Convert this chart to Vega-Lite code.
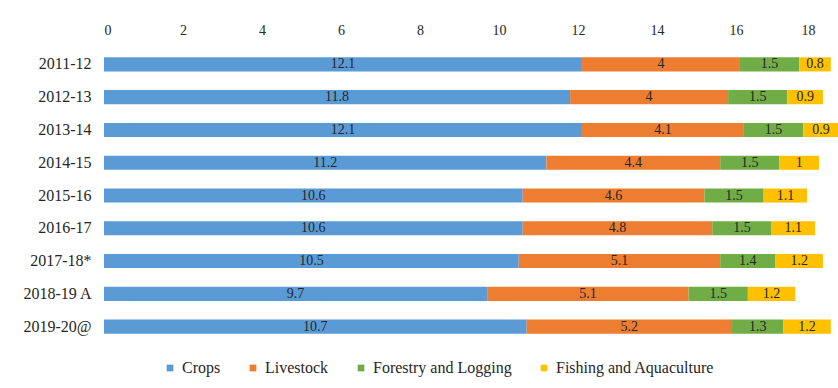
{
  "$schema": "https://vega.github.io/schema/vega-lite/v6.json",
  "autosize": {"type": "none"},
  "width": 711,
  "height": 295,
  "padding": {"left": 104, "top": 48, "right": 23, "bottom": 45},
  "background": "white",
  "config": {
    "view": {"stroke": null},
    "font": "Liberation Serif",
    "axis": {"labelFont": "Liberation Serif", "labelColor": "#262626", "grid": false, "domain": false, "ticks": false, "title": null},
    "legend": {"labelFont": "Liberation Serif", "labelFontSize": 16, "labelColor": "#262626"}
  },
  "data": {
    "values": [
      {"year": "2011-12", "sector": "Crops", "ord": 1, "value": 12.1},
      {"year": "2011-12", "sector": "Livestock", "ord": 2, "value": 4},
      {"year": "2011-12", "sector": "Forestry and Logging", "ord": 3, "value": 1.5},
      {"year": "2011-12", "sector": "Fishing and Aquaculture", "ord": 4, "value": 0.8},
      {"year": "2012-13", "sector": "Crops", "ord": 1, "value": 11.8},
      {"year": "2012-13", "sector": "Livestock", "ord": 2, "value": 4},
      {"year": "2012-13", "sector": "Forestry and Logging", "ord": 3, "value": 1.5},
      {"year": "2012-13", "sector": "Fishing and Aquaculture", "ord": 4, "value": 0.9},
      {"year": "2013-14", "sector": "Crops", "ord": 1, "value": 12.1},
      {"year": "2013-14", "sector": "Livestock", "ord": 2, "value": 4.1},
      {"year": "2013-14", "sector": "Forestry and Logging", "ord": 3, "value": 1.5},
      {"year": "2013-14", "sector": "Fishing and Aquaculture", "ord": 4, "value": 0.9},
      {"year": "2014-15", "sector": "Crops", "ord": 1, "value": 11.2},
      {"year": "2014-15", "sector": "Livestock", "ord": 2, "value": 4.4},
      {"year": "2014-15", "sector": "Forestry and Logging", "ord": 3, "value": 1.5},
      {"year": "2014-15", "sector": "Fishing and Aquaculture", "ord": 4, "value": 1},
      {"year": "2015-16", "sector": "Crops", "ord": 1, "value": 10.6},
      {"year": "2015-16", "sector": "Livestock", "ord": 2, "value": 4.6},
      {"year": "2015-16", "sector": "Forestry and Logging", "ord": 3, "value": 1.5},
      {"year": "2015-16", "sector": "Fishing and Aquaculture", "ord": 4, "value": 1.1},
      {"year": "2016-17", "sector": "Crops", "ord": 1, "value": 10.6},
      {"year": "2016-17", "sector": "Livestock", "ord": 2, "value": 4.8},
      {"year": "2016-17", "sector": "Forestry and Logging", "ord": 3, "value": 1.5},
      {"year": "2016-17", "sector": "Fishing and Aquaculture", "ord": 4, "value": 1.1},
      {"year": "2017-18*", "sector": "Crops", "ord": 1, "value": 10.5},
      {"year": "2017-18*", "sector": "Livestock", "ord": 2, "value": 5.1},
      {"year": "2017-18*", "sector": "Forestry and Logging", "ord": 3, "value": 1.4},
      {"year": "2017-18*", "sector": "Fishing and Aquaculture", "ord": 4, "value": 1.2},
      {"year": "2018-19 A", "sector": "Crops", "ord": 1, "value": 9.7},
      {"year": "2018-19 A", "sector": "Livestock", "ord": 2, "value": 5.1},
      {"year": "2018-19 A", "sector": "Forestry and Logging", "ord": 3, "value": 1.5},
      {"year": "2018-19 A", "sector": "Fishing and Aquaculture", "ord": 4, "value": 1.2},
      {"year": "2019-20@", "sector": "Crops", "ord": 1, "value": 10.7},
      {"year": "2019-20@", "sector": "Livestock", "ord": 2, "value": 5.2},
      {"year": "2019-20@", "sector": "Forestry and Logging", "ord": 3, "value": 1.3},
      {"year": "2019-20@", "sector": "Fishing and Aquaculture", "ord": 4, "value": 1.2}
    ]
  },
  "encoding": {
    "y": {
      "field": "year", "type": "nominal", "sort": null,
      "scale": {"paddingInner": 0.57, "paddingOuter": 0.285},
      "axis": {"labelPadding": 13, "labelFontSize": 16, "labelFont": "Liberation Serif"}
    }
  },
  "layer": [
    {
      "mark": {"type": "bar"},
      "encoding": {
        "x": {
          "field": "value", "type": "quantitative", "stack": "zero",
          "scale": {"domain": [0, 18], "nice": false},
          "axis": {"orient": "top", "values": [0, 2, 4, 6, 8, 10, 12, 14, 16, 18], "labelPadding": 11, "labelFontSize": 14, "labelFont": "Liberation Serif"}
        },
        "color": {
          "field": "sector", "type": "nominal",
          "scale": {
            "domain": ["Crops", "Livestock", "Forestry and Logging", "Fishing and Aquaculture"],
            "range": ["#5B9BD5", "#ED7D31", "#70AD47", "#FFC000"]
          },
          "legend": {"orient": "none", "legendX": 58, "legendY": 312, "direction": "horizontal", "title": null, "symbolType": "square", "symbolSize": 45, "columnPadding": 24, "labelFont": "Liberation Serif", "labelFontSize": 16}
        },
        "order": {"field": "ord", "type": "quantitative"}
      }
    },
    {
      "mark": {"type": "text", "fontSize": 14, "color": "#262626", "font": "Liberation Serif"},
      "encoding": {
        "x": {"field": "value", "type": "quantitative", "stack": "zero", "bandPosition": 0.5},
        "text": {"field": "value", "type": "quantitative"},
        "detail": {"field": "sector"},
        "order": {"field": "ord", "type": "quantitative"}
      }
    }
  ]
}
